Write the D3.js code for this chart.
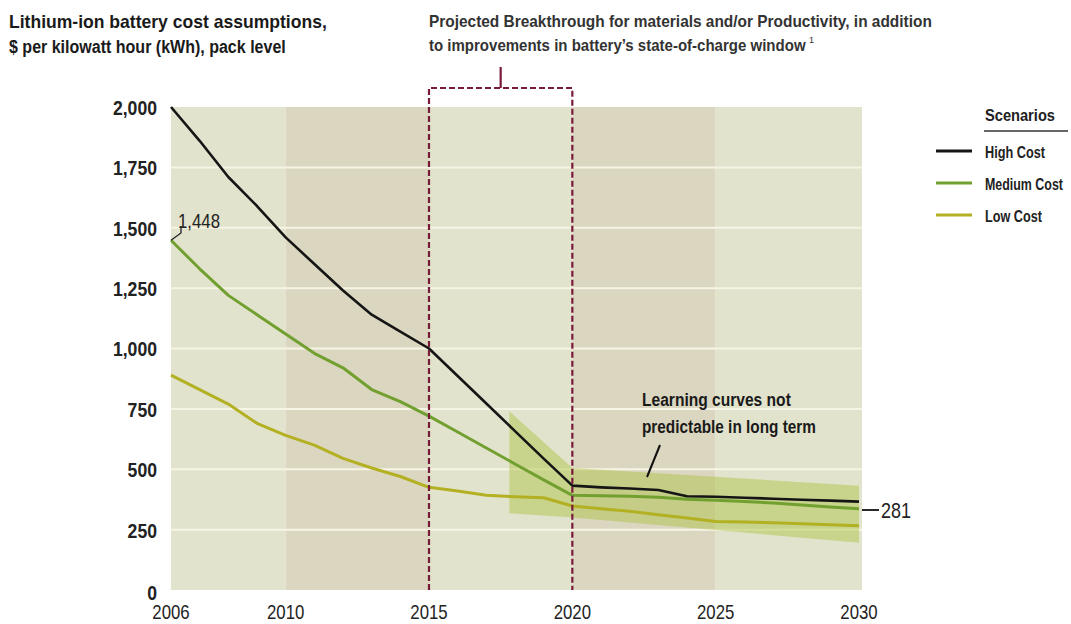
<!DOCTYPE html>
<html><head><meta charset="utf-8">
<script src="https://cdn.jsdelivr.net/npm/d3@7"></script>
<style>
body{margin:0;background:#fff;}
svg text{font-family:"Liberation Sans",Arial,Helvetica,sans-serif;}
</style></head>
<body><svg id="c" width="1071" height="624"></svg>
<script>
const years = [2006,2007,2008,2009,2010,2011,2012,2013,2014,2015,2016,2017,2018,2019,2020,2021,2022,2023,2024,2025,2026,2027,2028,2029,2030];
const highCost = [2000,1860,1710,1590,1460,1350,1240,1140,1070,1000,886,772,658,544,432,425,420,414,388,386,382,378,374,370,366];
const mediumCost = [1448,1330,1220,1140,1060,980,920,830,780,720,654,588,522,456,392,390,388,384,376,372,366,360,352,344,336];
const lowCost = [890,830,770,690,640,600,545,505,470,425,410,392,386,382,348,336,326,312,298,284,282,278,274,270,266];
const bandYears = [2017.8,2020,2030];
const bandHigh = [740,505,432];
const bandLow = [318,300,196];
const yTicks = [0,250,500,750,1000,1250,1500,1750,2000];
const xTicks = [2006,2010,2015,2020,2025,2030];
const columns = [[2006,2010],[2010,2015],[2015,2020],[2020,2025],[2025,2030]];
const seriesNames = ["High Cost","Medium Cost","Low Cost"];
const seriesColors = ["#151515","#72a030","#b3b123"];
const legendWidths = [60,78,57];

const svg = d3.select("#c");
const x = d3.scaleLinear().domain([2006,2030]).range([171,859]);
const y = d3.scaleLinear().domain([0,2000]).range([590,107]);

// horizontal condensing with a transform around the text's anchor x
function squeeze(el,k){
  const x0 = +el.getAttribute("x");
  el.setAttribute("transform",`translate(${x0},0) scale(${k},1) translate(${-x0},0)`);
}
function condense(sel,k){ sel.each(function(){ squeeze(this,k); }); }
function fit(sel,w){ sel.each(function(){ squeeze(this, w/this.getComputedTextLength()); }); return sel; }

// background columns
svg.append("g").selectAll("rect").data(columns).join("rect")
  .attr("x",d=>x(d[0])).attr("y",y(2000))
  .attr("width",d=>x(d[1])-x(d[0])+(d[1]===2030?3:0)).attr("height",y(0)-y(2000))
  .attr("fill",(d,i)=>i%2? "#dbd6bf":"#e2e3cc");

// gridlines
svg.append("g").selectAll("line").data(yTicks.filter(v=>v>0 && v<2000)).join("line")
  .attr("x1",x(2006)).attr("x2",x(2030)+3).attr("y1",d=>y(d)).attr("y2",d=>y(d))
  .attr("stroke","#f6f4e4").attr("stroke-width",2);

// band
const area = d3.area().x((d,i)=>x(bandYears[i])).y0((d,i)=>y(bandLow[i])).y1((d,i)=>y(bandHigh[i]));
svg.append("path").datum(bandYears).attr("d",area).attr("fill","#a9c03e").attr("fill-opacity",0.45);

// lines
const line = d3.line().x((d,i)=>x(years[i])).y(d=>y(d));
[lowCost,mediumCost,highCost].forEach((s,k)=>{
  const idx = 2-k;
  svg.append("path").datum(s).attr("d",line).attr("fill","none")
    .attr("stroke",seriesColors[idx]).attr("stroke-width",idx===0?2.6:3).attr("stroke-linejoin","round");
});

// dashed box
const boxTop = 88;
const box = svg.append("g").attr("stroke","#7a1a3a").attr("stroke-width",2.2).attr("stroke-dasharray","6,3").attr("fill","none");
box.append("path").attr("d",`M${x(2015)},${y(0)}V${boxTop}H${x(2020)}V${y(0)}`);
svg.append("line").attr("x1",(x(2015)+x(2020))/2).attr("x2",(x(2015)+x(2020))/2).attr("y1",boxTop).attr("y2",67)
  .attr("stroke","#7a1a3a").attr("stroke-width",2.2);

// axes labels
svg.append("g").selectAll("text").data(yTicks).join("text")
  .attr("x",157).attr("y",d=>y(d)+(d===0?10:8)).attr("text-anchor","end")
  .attr("font-size",21).attr("font-weight","bold").attr("fill","#222")
  .text(d=>d3.format(",")(d)).call(condense,0.84);
svg.append("g").selectAll("text").data(xTicks).join("text")
  .attr("x",d=>x(d)).attr("y",619).attr("text-anchor","middle")
  .attr("font-size",20).attr("fill","#222").text(d=>d).call(condense,0.84);

// titles
const tA = {"font-size":19,"font-weight":"bold","fill":"#1a1a1a"};
function txt(xp,yp,s,attrs){ const t=svg.append("text").attr("x",xp).attr("y",yp).text(s); for(const k in attrs) t.attr(k,attrs[k]); return t; }
fit(txt(9,28,"Lithium-ion battery cost assumptions,",tA),318);
fit(txt(9,53,"$ per kilowatt hour (kWh), pack level",tA),277);
const tB = {"font-size":16.5,"font-weight":"bold","fill":"#333"};
fit(txt(429,27,"Projected Breakthrough for materials and/or Productivity, in addition",tB),503);
fit(txt(429,51,"to improvements in battery\u2019s state-of-charge window",tB),377);
txt(809,43,"1",{"font-size":9,"fill":"#333"});

// legend
fit(txt(985,121,"Scenarios",{"font-size":17,"font-weight":"bold","fill":"#222"}),70);
svg.append("line").attr("x1",984).attr("x2",1068).attr("y1",131).attr("y2",131).attr("stroke","#333").attr("stroke-width",1.3);
seriesNames.forEach((nm,i)=>{
  const ly = 151+i*32;
  svg.append("line").attr("x1",936).attr("x2",972).attr("y1",ly).attr("y2",ly).attr("stroke",seriesColors[i]).attr("stroke-width",3);
  fit(txt(985,ly+7,nm,{"font-size":17,"font-weight":"bold","fill":"#222"}),legendWidths[i]);
});

// annotations
svg.append("path").attr("d",`M${x(2006)},${y(mediumCost[0])}L181,233V226`).attr("fill","none").attr("stroke","#222").attr("stroke-width",1.3);
fit(txt(178,228,"1,448",{"font-size":20,"fill":"#222"}),42);
const aA = {"font-size":19,"font-weight":"bold","fill":"#1a1a1a"};
fit(txt(642,406,"Learning curves not",aA),149);
fit(txt(642,433,"predictable in long term",aA),174);
svg.append("line").attr("x1",647).attr("y1",477).attr("x2",660).attr("y2",445).attr("stroke","#111").attr("stroke-width",2);
svg.append("line").attr("x1",x(2030)+3).attr("x2",879).attr("y1",510).attr("y2",510).attr("stroke","#111").attr("stroke-width",1.8);
fit(txt(881,518,"281",{"font-size":22,"fill":"#222"}),30);
</script></body></html>
